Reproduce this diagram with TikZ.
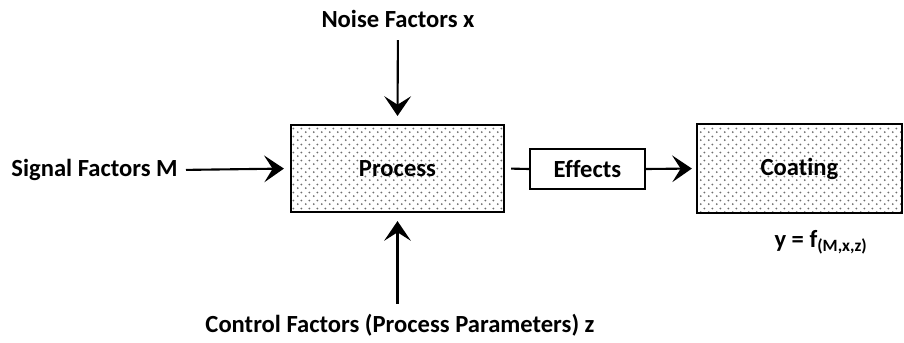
\documentclass[tikz,border=0pt]{standalone}
\usepackage{fontspec}
\setmainfont{Carlito}[Ligatures=NoCommon]
\usetikzlibrary{positioning, arrows.meta, patterns}
\definecolor{Ink}{HTML}{000000}
\definecolor{Dots}{HTML}{6E6E6E}
% coarse staggered dot fill
\pgfdeclarepatternformonly{sanddots}{\pgfqpoint{0pt}{0pt}}{\pgfqpoint{5.4pt}{5.4pt}}{\pgfqpoint{5.4pt}{5.4pt}}{
    \pgfpathcircle{\pgfqpoint{1.35pt}{1.35pt}}{0.75pt}
    \pgfpathcircle{\pgfqpoint{4.05pt}{4.05pt}}{0.75pt}
    \pgfusepath{fill}
}
\tikzset{
    dotbox/.style={rectangle, draw=Ink, line width=1.5pt, pattern=sanddots, pattern color=Dots},
    plainbox/.style={rectangle, draw=Ink, line width=1.3pt, fill=white, font=\bfseries\fontsize{17.5}{20}\selectfont},
    label/.style={font=\bfseries\fontsize{17.5}{20}\selectfont, text=Ink, inner sep=0pt},
    arrow/.style={-{Stealth[length=14pt, width=19pt, inset=6pt]}, line width=1.5pt, color=Ink},
    link/.style={line width=1.5pt, color=Ink},
}
\begin{document}
\begin{tikzpicture}[x=0.025cm, y=-0.025cm]
        % --- Frame ---
        \useasboundingbox (0,0) rectangle (904,343);

        % --- Boxes ---
        \node[dotbox, minimum width=5.325cm, minimum height=2.175cm] (proc) at (397.5,168.5) {};
        \node[label] at (proc) {Process};
        \node[plainbox, minimum width=2.875cm, minimum height=1cm] (eff) at (587.5,169) {Effects};
        \node[dotbox, minimum width=5.125cm, minimum height=2.225cm] (coat) at (799.5,168.5) {};
        \node[label] at (coat) {Coating};

        % --- Factor labels ---
        \node[label] (noise) at (398,19) {Noise Factors x};
        \node[label, anchor=east] (signal) at (178,170) {Signal Factors M};
        \node[label] (ctrl) at (400,325) {Control Factors (Process Parameters) z};
        \node[label] (resp) at (821,242) {y = f\textsubscript{(M,x,z)}};

        % --- Connectors ---
        \draw[arrow, shorten <=0.3cm, shorten >=0.2cm] (noise) -- (proc.north);
        \draw[arrow, shorten <=0.2cm, shorten >=0.15cm] (signal.east) -- (proc.west);
        \draw[arrow, shorten <=0.25cm, shorten >=0.2cm] (ctrl.north -| proc.south) -- (proc.south);
        \draw[link, shorten <=0.15cm] (proc.east) -- (eff.west);
        \draw[arrow, shorten >=0.1cm] (eff.east) -- (coat.west);
    \end{tikzpicture}
\end{document}
